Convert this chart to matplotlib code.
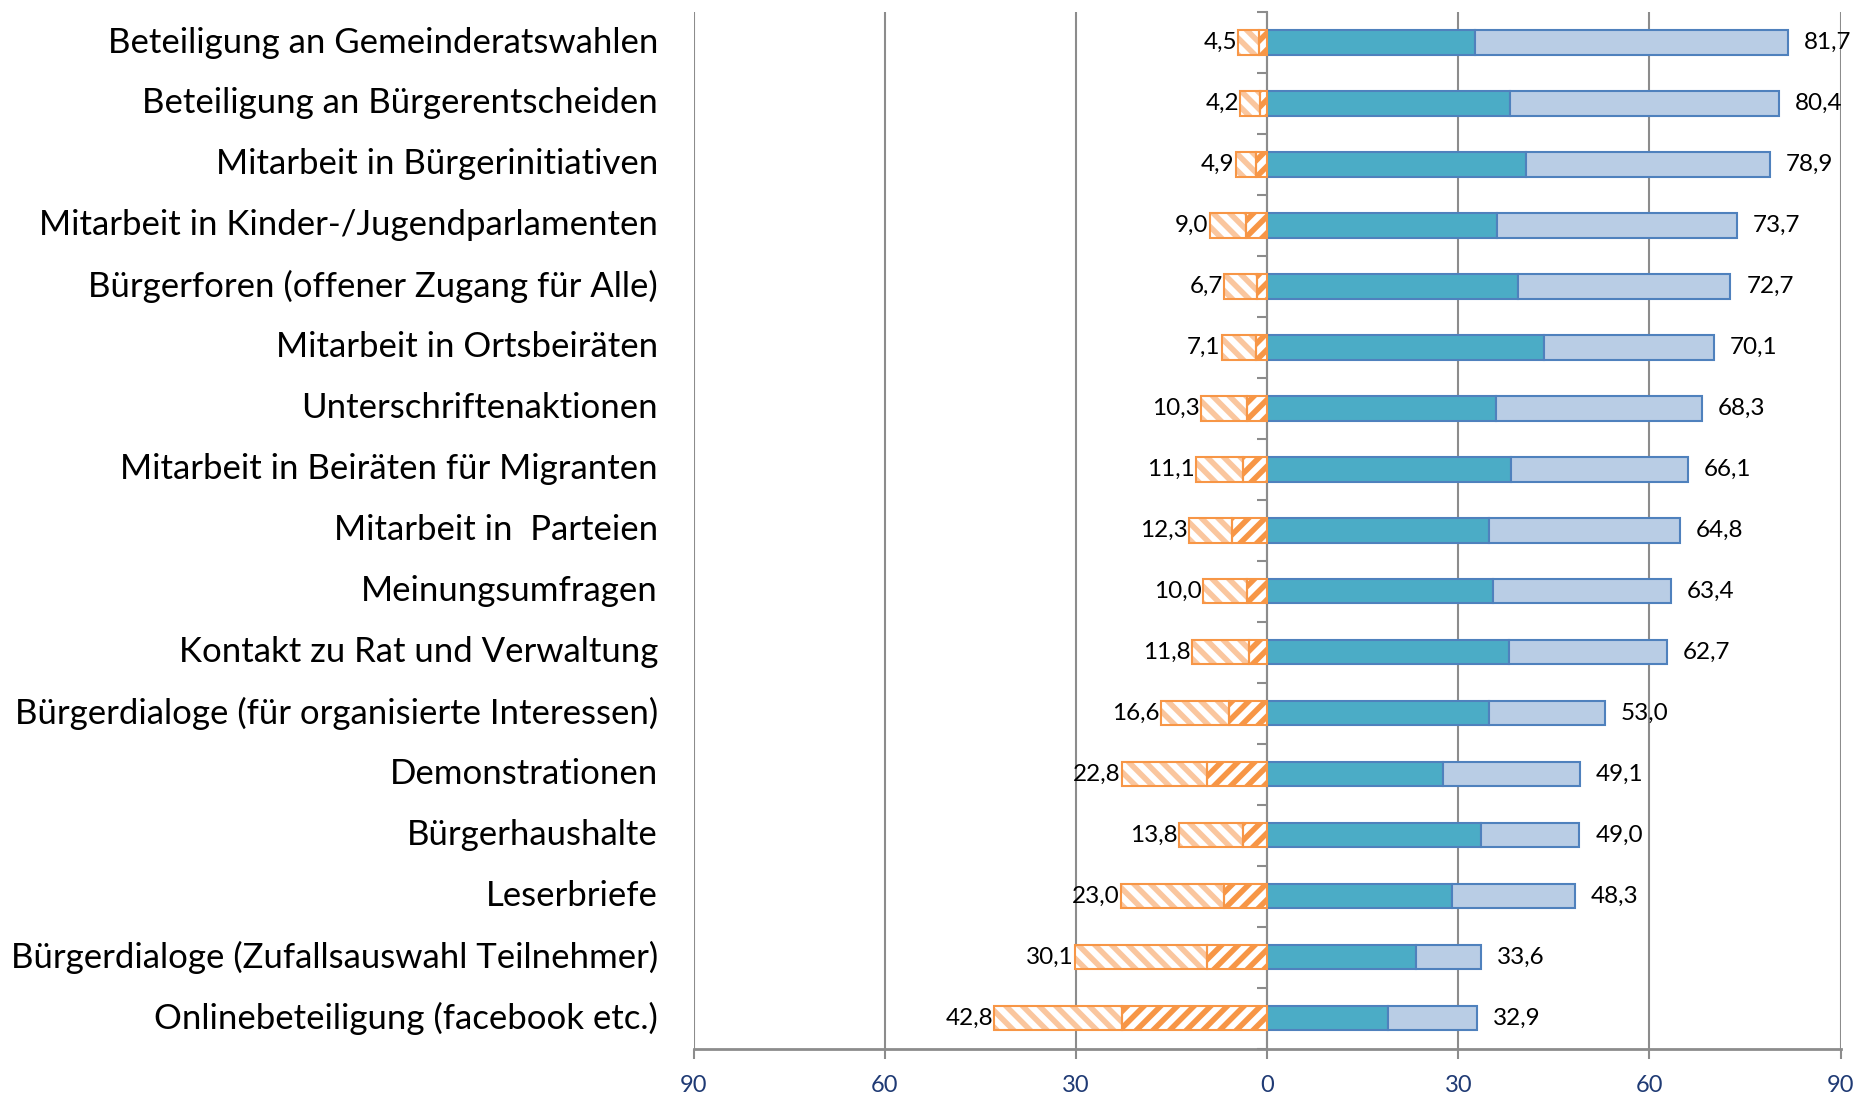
import numpy as np
import matplotlib
matplotlib.use("Agg")
import matplotlib.pyplot as plt
import matplotlib.transforms as mtransforms

plt.rcParams['font.family'] = ['Lato', 'DejaVu Sans']
plt.rcParams['hatch.linewidth'] = 4.0

categories = [
    "Beteiligung an Gemeinderatswahlen",
    "Beteiligung an Bürgerentscheiden",
    "Mitarbeit in Bürgerinitiativen",
    "Mitarbeit in Kinder-/Jugendparlamenten",
    "Bürgerforen (offener Zugang für Alle)",
    "Mitarbeit in Ortsbeiräten",
    "Unterschriftenaktionen",
    "Mitarbeit in Beiräten für Migranten",
    "Mitarbeit in  Parteien",
    "Meinungsumfragen",
    "Kontakt zu Rat und Verwaltung",
    "Bürgerdialoge (für organisierte Interessen)",
    "Demonstrationen",
    "Bürgerhaushalte",
    "Leserbriefe",
    "Bürgerdialoge (Zufallsauswahl Teilnehmer)",
    "Onlinebeteiligung (facebook etc.)",
]

# positive side: strong (dark) and moderate (light) agreement
pos_strong = [32.6, 38.1, 40.6, 36.1, 39.4, 43.4, 35.9, 38.2, 34.9, 35.4, 37.9, 34.9, 27.6, 33.5, 29.0, 23.4, 19.0]
pos_weak   = [49.1, 42.3, 38.3, 37.6, 33.3, 26.7, 32.4, 27.9, 29.9, 28.0, 24.8, 18.1, 21.5, 15.5, 19.3, 10.2, 13.9]
# negative side: strong (inner, next to 0) and moderate (outer)
neg_strong = [1.3, 1.1, 1.7, 3.3, 1.6, 1.8, 3.2, 3.8, 5.5, 3.1, 2.8, 5.9, 9.5, 3.8, 6.8, 9.4, 22.7]
neg_weak   = [3.2, 3.1, 3.2, 5.7, 5.1, 5.3, 7.1, 7.3, 6.8, 6.9, 9.0, 10.7, 13.3, 10.0, 16.2, 20.7, 20.1]

xticks = [-90, -60, -30, 0, 30, 60, 90]
xticklabels = ["90", "60", "30", "0", "30", "60", "90"]

DARK = "#4BACC6"
LIGHT = "#B9CDE5"
BLUE_EDGE = "#4F81BD"
ORANGE = "#F79646"
ORANGE_LIGHT = "#FAC69E"
GRID = "#8C8C8C"
TICKTXT = "#1F3A74"

def fmt(v):
    return f"{v:.1f}".replace(".", ",")

fig = plt.figure(figsize=(18.62, 10.94), dpi=100)
ax = fig.add_axes([0.3725, 0.0415, 0.6160, 0.9475])

y = np.arange(len(categories))
ps = np.array(pos_strong)
pw = np.array(pos_weak)
ns = np.array(neg_strong)
nw = np.array(neg_weak)
h = 0.4

# positive bars
ax.barh(y, ps, height=h, color=DARK, edgecolor=BLUE_EDGE, linewidth=1.5, zorder=3)
ax.barh(y, pw, left=ps, height=h, color=LIGHT, edgecolor=BLUE_EDGE, linewidth=1.5, zorder=3)

# negative bars: inner (strong) with orange hatch
ax.barh(y, -ns, height=h, color="white", edgecolor=ORANGE, linewidth=0, hatch="//", zorder=3)
ax.barh(y, -ns, height=h, fill=False, edgecolor=ORANGE, linewidth=1.5, zorder=4)
# outer (moderate) with light orange hatch
ax.barh(y, -nw, left=-ns, height=h, color="white", edgecolor=ORANGE_LIGHT, linewidth=0, hatch="\\\\", zorder=3)
ax.barh(y, -nw, left=-ns, height=h, fill=False, edgecolor=ORANGE, linewidth=1.5, zorder=4)

# value labels
for yi, tp, tn in zip(y, ps + pw, ns + nw):
    ax.text(tp + 2.5, yi, fmt(tp), ha="left", va="center", fontsize=17.5, color="black", zorder=5)
    ax.text(-tn - 0.2, yi, fmt(tn), ha="right", va="center", fontsize=17.5, color="black", zorder=5)

ax.set_xlim(-90, 90)
ax.set_ylim(len(categories) - 0.5, -0.5)

ax.set_xticks(xticks)
ax.set_xticklabels(xticklabels, fontsize=17, color=TICKTXT)
ax.tick_params(axis="x", direction="out", length=7, width=1.5, color=GRID, pad=12)
ax.grid(axis="x", color=GRID, linewidth=1.5, zorder=0)

# category axis at 0 with boundary tick marks
ax.spines["left"].set_position(("data", 0))
ax.spines["left"].set_color(GRID)
ax.spines["left"].set_linewidth(1.5)
ax.spines["left"].set_zorder(2)
ax.set_yticks(np.arange(-0.5, len(categories), 1))
ax.set_yticklabels([])
ax.tick_params(axis="y", direction="out", length=7, width=1.5, color=GRID)
ax.spines["bottom"].set_color(GRID)
ax.spines["bottom"].set_linewidth(2)
ax.spines["top"].set_visible(False)
ax.spines["right"].set_visible(False)

trans = mtransforms.blended_transform_factory(ax.transAxes, ax.transData)
for yi, cat in zip(y, categories):
    ax.text(-0.031, yi, cat, transform=trans, ha="right", va="center", fontsize=25, color="black")

fig.savefig("out.png", dpi=100)
